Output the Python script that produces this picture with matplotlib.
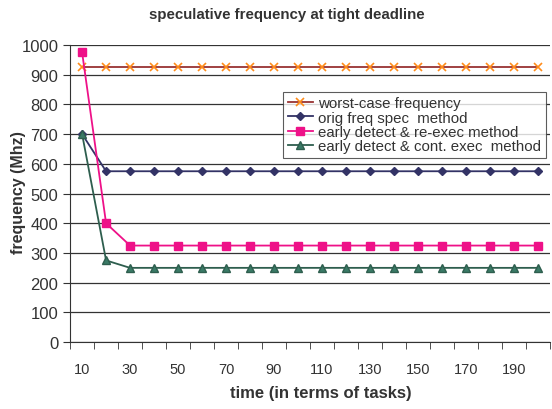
import matplotlib
matplotlib.use("Agg")
import matplotlib.pyplot as plt
import numpy as np

plt.rcParams['font.family'] = ['Liberation Sans', 'DejaVu Sans']

tasks = list(range(10, 201, 10))
worst_case = [925] * 20
orig_spec = [700] + [575] * 19
reexec = [975, 400] + [325] * 18
cont_exec = [700, 275] + [250] * 18

labels = ["worst-case frequency", "orig freq spec  method",
          "early detect & re-exec method", "early detect & cont. exec  method"]

fig = plt.figure(figsize=(5.52, 4.1), dpi=100)
ax = fig.add_axes([0.127, 0.163, 0.869, 0.725])

x = np.arange(len(tasks))
ax.plot(x, worst_case, color='#993333', lw=1.3, marker='x', ms=6, mec='#FF8C1A', mew=1.2, label=labels[0])
ax.plot(x, orig_spec, color='#333366', lw=1.3, marker='D', ms=4, mfc='#333366', mec='#333366', label=labels[1])
ax.plot(x, reexec, color='#EE1188', lw=1.3, marker='s', ms=6, mfc='#EE1188', mec='#EE1188', label=labels[2])
ax.plot(x, cont_exec, color='#2E5E4E', lw=1.3, marker='^', ms=6, mfc='#3A7A66', mec='#2E5E4E', label=labels[3])

ax.set_xlim(-0.5, len(tasks) - 0.5)
ax.set_ylim(0, 1000)
ax.set_yticks(range(0, 1001, 100))
ax.yaxis.grid(True, color='#333333', lw=0.9)
ax.set_axisbelow(True)
for s in ['top', 'right']:
    ax.spines[s].set_visible(False)
ax.spines['left'].set_color('#333333')
ax.spines['bottom'].set_color('#333333')

ax.set_xticks(x[::2])
ax.set_xticklabels([str(t) for t in tasks[::2]])
ax.set_xticks(np.arange(-0.5, len(tasks)), minor=True)
ax.tick_params(axis='x', which='major', length=0, pad=14, labelsize=10.5, colors='#333333')
ax.tick_params(axis='x', which='minor', length=5, color='#333333')
ax.tick_params(axis='y', length=5, labelsize=12, colors='#333333')

ax.set_xlabel('time (in terms of tasks)', fontsize=12, fontweight='bold', color='#333333')
ax.xaxis.set_label_coords(0.523, -0.168, transform=ax.transAxes)
ax.xaxis.label.set_va('center')
ax.set_ylabel('frequency (Mhz)', fontsize=11.5, fontweight='bold', color='#333333')
ax.yaxis.set_label_coords(-0.108, 0.508, transform=ax.transAxes)
ax.yaxis.label.set_va('center')
fig.text(287 / 552, 1 - 15 / 410, 'speculative frequency at tight deadline', fontsize=10.8,
         fontweight='bold', color='#333333', ha='center', va='center')

leg = ax.legend(loc='upper left', bbox_to_anchor=(0.444, 0.842), fontsize=10.8, frameon=True, fancybox=False,
                edgecolor='#333333', borderpad=0.3, labelspacing=0.02, handlelength=1.7, handletextpad=0.35,
                borderaxespad=0)
leg.get_frame().set_linewidth(0.8)
for t in leg.get_texts():
    t.set_color('#333333')

fig.savefig('out.png', dpi=100)
